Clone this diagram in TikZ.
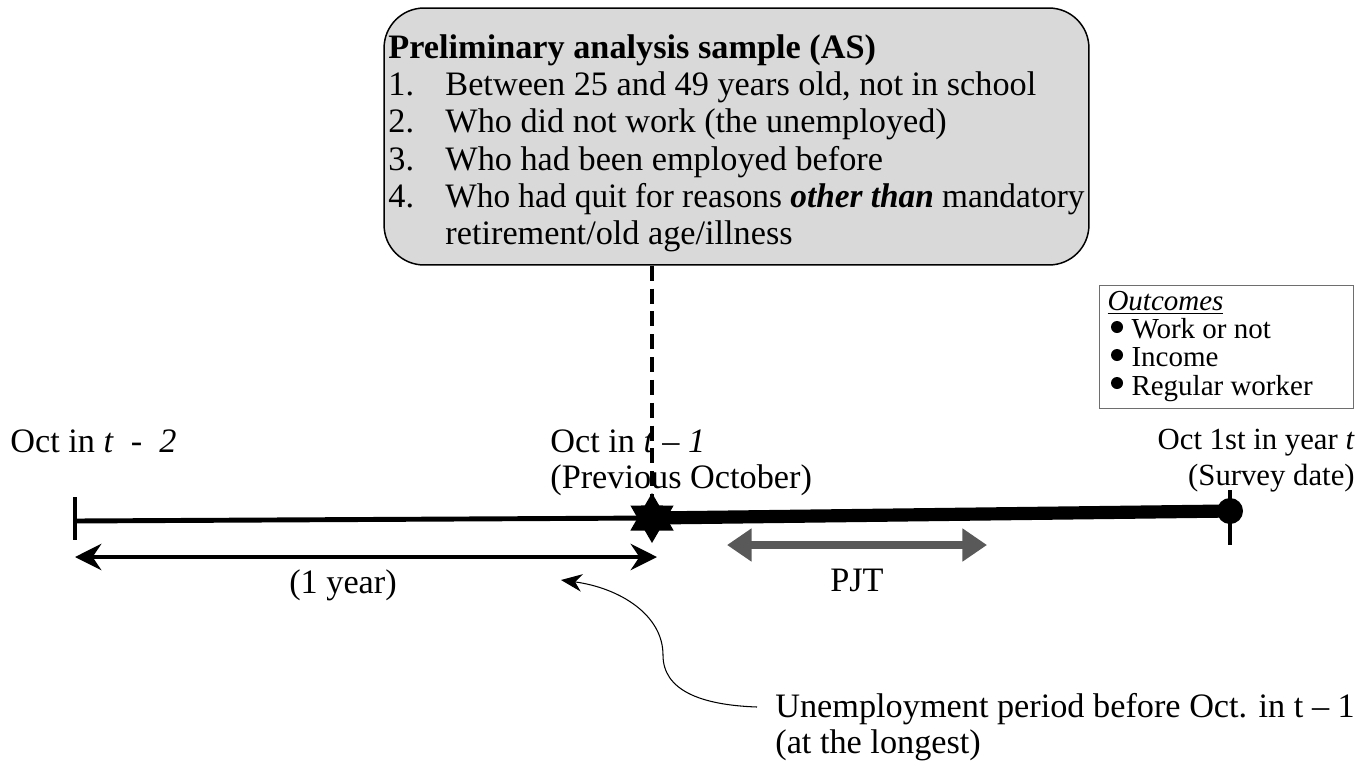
\documentclass[tikz,border=0pt]{standalone}
\usepackage{fontspec}
\setmainfont{Liberation Serif}
\usetikzlibrary{arrows.meta,shapes.geometric,positioning}

\definecolor{pjtgray}{RGB}{89,89,89}
\definecolor{boxgray}{RGB}{217,217,217}
\definecolor{outgray}{RGB}{110,110,110}

\tikzset{
  lbl/.style={font=\fontsize{19.5}{20.5}\selectfont, inner sep=0pt, align=left},
  critbox/.style={draw, line width=0.85pt, fill=boxgray, rounded corners=0.8cm,
    minimum width=14.1cm, minimum height=5.14cm, inner xsep=0.08cm,
    font=\fontsize{19.5}{21.2}\selectfont},
  outbox/.style={draw=outgray, line width=0.6pt, inner xsep=0.16cm, inner ysep=0.1cm,
    font=\fontsize{16.5}{15.9}\selectfont},
  dashline/.style={line width=2.2pt, dash pattern=on 8.5pt off 4.5pt},
  tick/.style={line width=2pt},
  span/.style={line width=2.3pt,
    {Stealth[length=15pt,width=15pt,inset=5pt]}-{Stealth[length=15pt,width=15pt,inset=5pt]}},
  pjt/.style={draw=pjtgray, line width=4.5pt,
    {Triangle[length=14pt,width=18pt]}-{Triangle[length=14pt,width=18pt]}},
}

\begin{document}
\begin{tikzpicture}[x=0.02cm,y=-0.02cm]
  \useasboundingbox (0,0) rectangle (1363,782);

  % sample definition
  \node[critbox] (crit) at (736.5,136.5) {%
    \raisebox{-0.15cm}[\height][\depth]{%
    \begin{tabular}{@{}p{1.14cm}@{}l@{}}
      \multicolumn{2}{@{}l@{}}{\textbf{Preliminary analysis sample (AS)}}\\
      1. & Between 25 and 49 years old, not in school\\
      2. & Who did not work (the unemployed)\\
      3. & Who had been employed before\\
      4. & \scalebox{0.972}[1]{Who had quit for reasons \textbf{\textit{other than}} mandatory}\\
         & retirement/old age/illness
    \end{tabular}}};

  % outcomes
  \node[outbox, anchor=north west] (outc) at (1099,285) {%
    \begin{tabular}{@{}p{0.48cm}@{}p{4.28cm}@{}}
      \multicolumn{2}{@{}l@{}}{\underline{\textit{Outcomes}}}\\
      & Work or not\\
      & Income\\
      & Regular worker
    \end{tabular}};
  \foreach \by in {327,355,383}
    \fill (1117,\by) circle (6);

  % labels
  \node[lbl, anchor=base west] (lt2) at (10,452) {Oct in \textit{t}~ -~ \textit{2}};
  \node[lbl, anchor=north west] (lt1) at (550,429) {Oct in \textit{t} – \textit{1}\\(Previous October)};
  \node[lbl, anchor=north east, align=right, font=\fontsize{17.5}{20.5}\selectfont] (lsv) at (1355,429)
    {Oct 1st in year \textit{t}\\(Survey date)};
  \node[lbl, anchor=base] (lyr) at (343,593) {(1 year)};
  \node[lbl, anchor=base] (lpjt) at (857,591) {PJT};
  \node[lbl, anchor=north west] (lun) at (775,693) {Unemployment period before Oct. in t – 1\\(at the longest)};

  % time points
  \coordinate (p2) at (75,521);
  \coordinate (p1) at (652,518);
  \coordinate (p0) at (1230,511);
  \coordinate (y2) at (75,557);
  \coordinate (y1) at (657,557);
  \coordinate (j1) at (727,545);
  \coordinate (j2) at (987,545);
  \coordinate (ua) at (561,580);
  \coordinate (ub) at (757,707);

  \draw[dashline] (crit.south -| p1) -- (p1);
  \draw[line width=2.8pt] (p2) -- (p1);
  \draw[line width=7.5pt] (p1) -- (p0);
  \draw[tick] (p2) ++(0,-24) -- ++(0,43);
  \draw[tick] (p0) ++(0,-21) -- ++(0,55);

  \node[star, star points=6, star point ratio=1.73, fill, minimum size=1cm, inner sep=0pt] (s1) at (p1) {};
  \node[circle, fill, minimum size=0.52cm, inner sep=0pt] (s0) at (p0) {};

  \draw[span] (y2) -- (y1);
  \draw[pjt] (j1) -- (j2);
  \draw[line width=0.6pt, -{Stealth[length=12pt,width=10pt]}] (ub)
    .. controls (700,705) and (663,690) .. (663,655)
    .. controls (663,615) and (620,588) .. (ua);
\end{tikzpicture}
\end{document}
